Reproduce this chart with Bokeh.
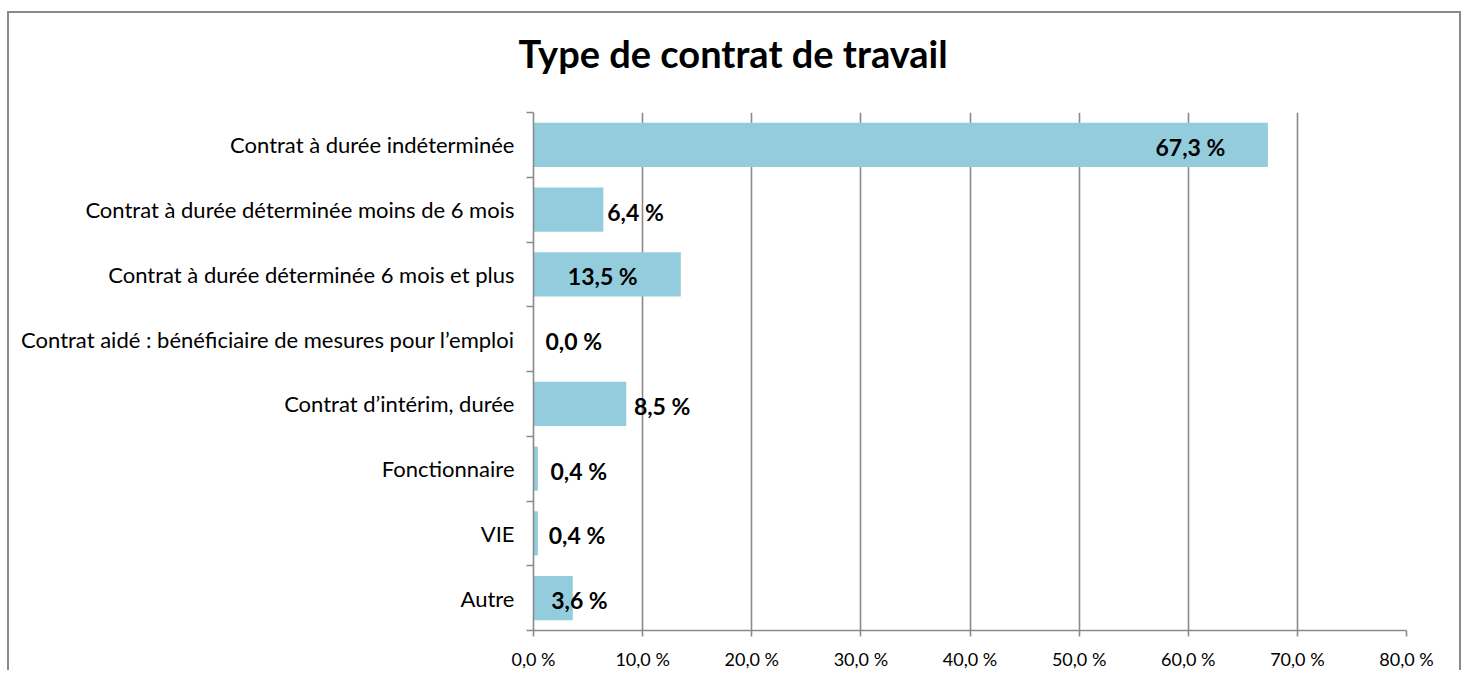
from bokeh.plotting import figure
from bokeh.models import FixedTicker, ColumnDataSource, Range1d, Title
from bokeh.core.properties import value
from bokeh.embed import file_html
from bokeh.resources import INLINE

# ---- data ----
title_text = "Type de contrat de travail"
categories = [
    "Contrat à durée indéterminée",
    "Contrat à durée déterminée moins de 6 mois",
    "Contrat à durée déterminée 6 mois et plus",
    "Contrat aidé : bénéficiaire de mesures pour l’emploi",
    "Contrat d’intérim, durée",
    "Fonctionnaire",
    "VIE",
    "Autre",
]
values = [67.3, 6.4, 13.5, 0.0, 8.5, 0.4, 0.4, 3.6]
value_labels = ["67,3 %", "6,4 %", "13,5 %", "0,0 %", "8,5 %", "0,4 %", "0,4 %", "3,6 %"]
x_ticks = [0, 10, 20, 30, 40, 50, 60, 70, 80]
x_tick_labels = ["0,0 %", "10,0 %", "20,0 %", "30,0 %", "40,0 %", "50,0 %", "60,0 %", "70,0 %", "80,0 %"]

# ---- layout (label anchor positions, in axis units) ----
label_x = [57.0, 6.76, 3.15, 1.10, 9.2, 1.56, 1.40, 1.62]

FONT = "Lato"
GRID = "#8a8a8a"
BAR = "#93cddd"

n = len(categories)
ypos = [n - i - 0.5 for i in range(n)]

src = ColumnDataSource(dict(y=ypos, v=values, lab=value_labels, lx=label_x))

p = figure(
    width=1454, height=659,
    x_range=Range1d(0, x_ticks[-1]), y_range=Range1d(0, n),
    output_backend="svg", toolbar_location=None,
    min_border_left=524, min_border_right=57, min_border_top=99, min_border_bottom=40,
)
p.styles = {
    "border-left": "2px solid #8a8a8a",
    "border-top": "2px solid #8a8a8a",
    "border-right": "2px solid #8a8a8a",
    "margin-left": "7px",
    "margin-top": "11px",
}
p.outline_line_color = None
p.background_fill_color = "white"
p.border_fill_color = "white"

# spacer between title and plot area
p.add_layout(Title(text=" ", text_font_size="1px", standoff=31), "above")

# title
p.title.text = title_text
p.title.align = "left"
p.title.offset = -15
p.title.vertical_align = "top"
p.title.text_font = FONT
p.title.text_font_style = "bold"
p.title.text_font_size = "38px"
p.title.text_color = "black"
p.title.standoff = 2

p.hbar(y="y", right="v", left=0, height=0.68, source=src,
       fill_color=BAR, line_color=None)

p.text(x="lx", y="y", text="lab", source=src,
       text_font=value(FONT), text_font_style="bold", text_font_size="23px",
       text_color="black", text_align="left", text_baseline="middle", y_offset=2)

# grid
p.xgrid.ticker = FixedTicker(ticks=x_ticks[1:])
p.xgrid.grid_line_color = GRID
p.xgrid.grid_line_width = 1.6
p.ygrid.visible = False

# x axis
xa = p.xaxis[0]
xa.ticker = FixedTicker(ticks=x_ticks)
xa.major_label_overrides = {t: l for t, l in zip(x_ticks, x_tick_labels)}
xa.axis_line_color = GRID
xa.axis_line_width = 1.6
xa.major_tick_line_color = GRID
xa.major_tick_line_width = 1.6
xa.major_tick_out = 6
xa.major_tick_in = 0
xa.minor_tick_line_color = None
xa.major_label_text_font = FONT
xa.major_label_text_font_size = "18px"
xa.major_label_text_color = "black"
xa.major_label_standoff = 11

# y axis
ya = p.yaxis[0]
ya.ticker = FixedTicker(ticks=ypos, minor_ticks=list(range(n + 1)))
ya.major_label_overrides = {y: c for y, c in zip(ypos, categories)}
ya.axis_line_color = GRID
ya.axis_line_width = 1.6
ya.major_tick_out = 0
ya.major_tick_in = 0
ya.major_tick_line_color = None
ya.minor_tick_line_color = GRID
ya.minor_tick_line_width = 1.6
ya.minor_tick_out = 7
ya.minor_tick_in = 0
ya.major_label_text_font = FONT
ya.major_label_text_font_size = "22px"
ya.major_label_text_color = "black"
ya.major_label_standoff = 12

open("out.html", "w").write(file_html(p, INLINE))
